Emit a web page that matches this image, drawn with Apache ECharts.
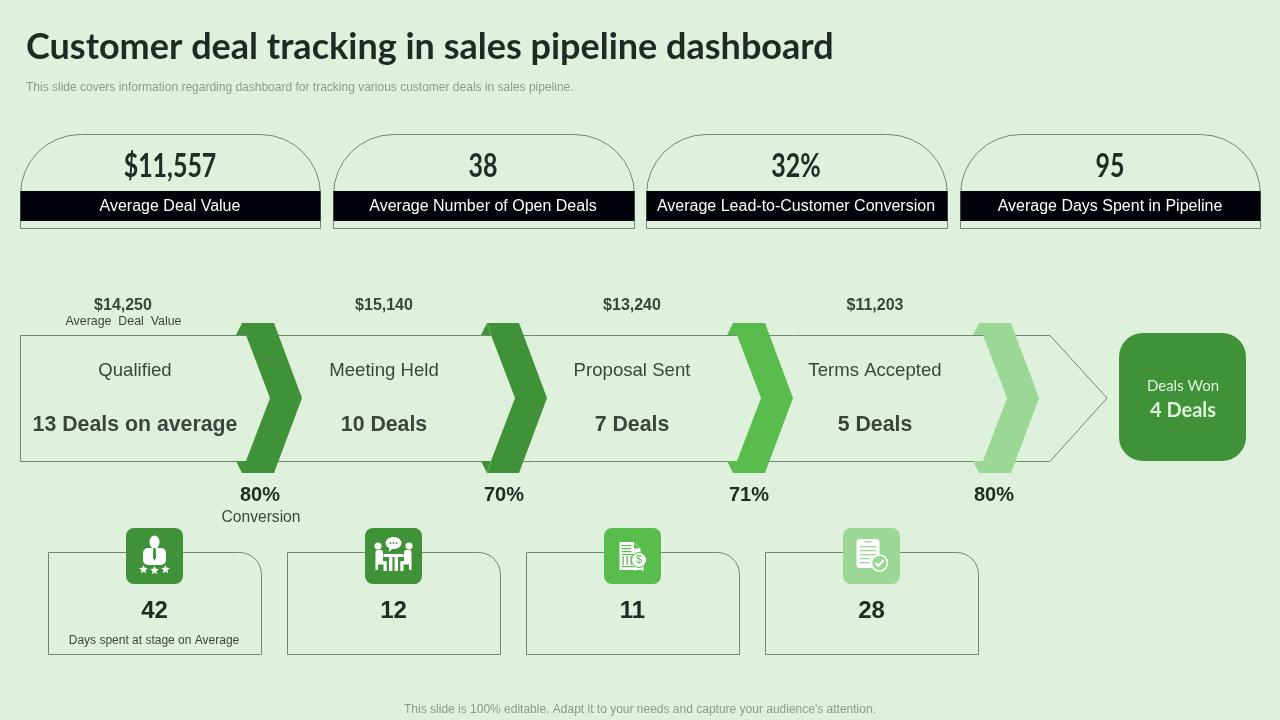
<!DOCTYPE html>
<html>
<head>
<meta charset="utf-8">
<title>Customer deal tracking in sales pipeline dashboard</title>
<script src="https://cdn.jsdelivr.net/npm/echarts@6/dist/echarts.min.js"></script>
<style>
  html, body { margin: 0; padding: 0; background: #dff1dc; }
  #canvas { width: 1280px; height: 720px; }
</style>
</head>
<body>
<div id="canvas"></div>
<script>
const titleText = "Customer deal tracking in sales pipeline dashboard";
const subtitleText = "This slide covers information regarding dashboard for tracking various customer deals in sales pipeline.";
const footerText = "This slide is 100% editable. Adapt it to your needs and capture your audience's attention.";

const kpiValues = ["$11,557", "38", "32%", "95"];
const kpiLabels = ["Average Deal Value", "Average Number of Open Deals", "Average Lead-to-Customer Conversion", "Average Days Spent in Pipeline"];

const stageNames = ["Qualified", "Meeting Held", "Proposal Sent", "Terms Accepted"];
const stageDeals = ["13 Deals on average", "10 Deals", "7 Deals", "5 Deals"];
const stageValues = ["$14,250", "$15,140", "$13,240", "$11,203"];
const conversions = ["80%", "70%", "71%", "80%"];
const stageDays = ["42", "12", "11", "28"];
const wonLabel = "Deals Won";
const wonDeals = "4 Deals";

const BG = "#dff1dc";
const LINE = "#6f8a70";
const DARK = "#3f9237";
const MID = "#58bd4d";
const LIGHT = "#9bd795";
const INK = "#3b453e";
const BOLD_INK = "#222c26";
const SANS = '"Liberation Sans", Arial, sans-serif';
const HUMANIST = 'Lato, "Open Sans", sans-serif';

const stageColors = [DARK, DARK, MID, LIGHT];
const chevronOffsets = [0, 245, 491, 737];
const kpiX = [20, 333, 646, 960];
const kpiW = [300, 301, 301, 300];
const stageCx = [135, 384, 632, 875];
const valueCx = [123, 384, 632, 875];
const convCx = [260, 504, 749, 994];
const cardX = [48, 287, 526, 765];

function label(text, x, y, size, color, weight, family, align) {
  return {
    type: "text", x: x, y: y, silent: true,
    style: {
      text: text, fill: color, fontSize: size, fontWeight: weight || "normal",
      fontFamily: family || SANS, align: align || "center", verticalAlign: "middle"
    }
  };
}

function rect(x, y, w, h, fill, r, stroke) {
  return {
    type: "rect", shape: { x: x, y: y, width: w, height: h, r: r || 0 },
    style: { fill: fill, stroke: stroke || null, lineWidth: stroke ? 1 : 0 }
  };
}

function circle(cx, cy, r, fill, stroke, lw) {
  return { type: "circle", shape: { cx: cx, cy: cy, r: r }, style: { fill: fill, stroke: stroke || null, lineWidth: lw || 0 } };
}

function poly(points, fill) {
  return { type: "polygon", shape: { points: points }, style: { fill: fill } };
}

function starPoints(cx, cy, r) {
  const pts = [];
  for (let i = 0; i < 10; i++) {
    const a = -Math.PI / 2 + i * Math.PI / 5;
    const d = i % 2 ? r * 0.45 : r;
    pts.push([cx + d * Math.cos(a), cy + d * Math.sin(a)]);
  }
  return pts;
}

function chevron(dx, color) {
  return poly([[236, 335], [242, 323], [274, 323], [302, 398], [274, 473], [242, 473], [236, 461],
    [246, 461], [270, 398], [246, 335]].map(p => [p[0] + dx, p[1]]), color);
}

function seam(dx, y1, y2) {
  return { type: "line", shape: { x1: 242 + dx, y1: y1, x2: 246 + dx, y2: y2 }, style: { stroke: "#8cc886", lineWidth: 0.6 } };
}

// the four little white pictograms, drawn around the tile centre
function personIcon() {
  const w = "#ffffff";
  return [
    { type: "ellipse", shape: { cx: 0, cy: -14, rx: 5, ry: 6.5 }, style: { fill: w } },
    rect(-11.5, -8, 23, 17, w, 5),
    poly([[-1.2, -8], [1.2, -8], [1.6, 2], [0, 4.5], [-1.6, 2]], DARK),
    poly(starPoints(-11, 13.5, 4.5), w),
    poly(starPoints(0, 14.5, 4.5), w),
    poly(starPoints(11, 13.5, 4.5), w)
  ];
}

function meetingIcon() {
  const w = "#ffffff";
  return [
    { type: "ellipse", shape: { cx: 0, cy: -13, rx: 8, ry: 6 }, style: { fill: w } },
    poly([[-4, -9], [0, -8], [-5, -4]], w),
    circle(-3, -13, 0.9, DARK), circle(0, -13, 0.9, DARK), circle(3, -13, 0.9, DARK),
    circle(-15.5, -10, 3.6, w), circle(15.5, -10, 3.6, w),
    rect(-18, -6, 7.5, 13, w, 2), rect(10.5, -6, 7.5, 13, w, 2),
    rect(-18, 5, 11, 3.5, w), rect(7, 5, 11, 3.5, w),
    rect(-10, 7, 3.2, 8, w), rect(6.8, 7, 3.2, 8, w),
    rect(-18, 7, 2.5, 7, w), rect(15.5, 7, 2.5, 7, w),
    rect(-10, -2, 20, 3, w),
    rect(-4.5, 1, 3.4, 14, w), rect(1.1, 1, 3.4, 14, w)
  ];
}

function invoiceIcon() {
  const w = "#ffffff";
  const kids = [poly([[-13, -14], [1, -14], [8, -7], [8, 14], [-13, 14]], w), poly([[1.5, -13], [7, -7.5], [1.5, -7.5]], MID)];
  [-11, -8, -5].forEach(y => kids.push(rect(-11, y, 10, 1.2, MID)));
  kids.push(rect(-11, -2, 17, 1.2, MID), rect(-11, 10, 17, 1.2, MID));
  [-10, -6, -2, 2].forEach(x => kids.push(rect(x, 0, 1.3, 9, MID)));
  kids.push(poly([[2, 8], [11, 8], [11, 15], [6.5, 13], [2, 15]], w));
  kids.push(circle(6.5, 4, 7.5, w, MID, 1));
  kids.push({ type: "text", x: 6.5, y: 4, style: { text: "$", fill: MID, fontSize: 11, fontFamily: SANS, align: "center", verticalAlign: "middle" } });
  return kids;
}

function checklistIcon() {
  const w = "#ffffff";
  const kids = [rect(-15, -17, 23, 29, w, 3), rect(-7, -15, 7, 1.3, LIGHT)];
  [-10, -6, -2, 2, 6].forEach((y, i) => kids.push(rect(-12, y, i > 2 ? 10 : 17, 1.3, LIGHT)));
  kids.push(circle(8, 7, 8, LIGHT, w, 1.5));
  kids.push({ type: "polyline", shape: { points: [[4, 7], [7, 10], [12, 4]] }, style: { stroke: w, lineWidth: 2, fill: null } });
  return kids;
}

const iconBuilders = [personIcon, meetingIcon, invoiceIcon, checklistIcon];

const elements = [];

// header
elements.push(label(titleText, 26, 47, 36, "#1f2a25", "bold", HUMANIST, "left"));
elements.push(label(subtitleText, 26, 87.5, 12, "#8d9b8e", "normal", SANS, "left"));

// KPI cards
kpiValues.forEach((v, i) => {
  const x = kpiX[i];
  elements.push(rect(x + 0.5, 134.5, kpiW[i], 94, "transparent", [60, 60, 0, 0], LINE));
  elements.push(rect(x + 0.5, 191, kpiW[i], 30, "#01020a"));
  // the original numerals are a narrow face, so squeeze Lato to the same width
  const big = label(v, x + 150, 167, 32, "#222c26", "bold", HUMANIST);
  big.scaleX = 0.78;
  elements.push(big);
  elements.push(label(kpiLabels[i], x + 150, 207, 16, "#ffffff"));
});

// pipeline arrow and stages
elements.push({
  type: "polygon",
  shape: { points: [[20.5, 335.5], [1050, 335.5], [1107, 398], [1050, 461.5], [20.5, 461.5]] },
  style: { fill: "transparent", stroke: LINE, lineWidth: 1 }
});
stageNames.forEach((name, i) => {
  elements.push(chevron(chevronOffsets[i], stageColors[i]));
  elements.push(label(stageValues[i], valueCx[i], 305.5, 16, INK, "bold"));
  elements.push(label(name, stageCx[i], 371, 18.6, INK));
  elements.push(label(stageDeals[i], stageCx[i], 425, 21.3, INK, "bold"));
  elements.push(label(conversions[i], convCx[i], 495, 20, BOLD_INK, "bold"));
});
elements.push(seam(245, 323, 335), seam(245, 473, 461));
elements.push(label("Average  Deal  Value", 123.5, 322, 12.4, INK));
elements.push(label("Conversion", 261, 517.5, 15.6, INK));

// deals won
elements.push(rect(1119, 333, 127, 128, DARK, 24));
elements.push(label(wonLabel, 1183, 386, 15, BG, "normal", HUMANIST));
elements.push(label(wonDeals, 1183, 411, 20, BG, "bold", HUMANIST));

// days per stage
stageDays.forEach((d, i) => {
  const x = cardX[i];
  const cx = x + 106.5;
  elements.push(rect(x + 0.5, 552.5, 213, 102, "transparent", [0, 22, 0, 0], LINE));
  elements.push(rect(cx - 28.5, 528, 57, 56, stageColors[i], 8));
  elements.push({ type: "group", x: cx, y: 556, children: iconBuilders[i]() });
  elements.push(label(d, cx, 611, 24, BOLD_INK, "bold"));
});
elements.push(label("Days spent at stage on Average", 154, 641, 12, INK));

// footer
elements.push(label(footerText, 640, 709.5, 12, "#8d9b8e"));

const myChart = echarts.init(document.getElementById("canvas"));
const option = {
  backgroundColor: BG,
  animation: false,
  graphic: { elements: elements }
};
myChart.setOption(option);
</script>
</body>
</html>
